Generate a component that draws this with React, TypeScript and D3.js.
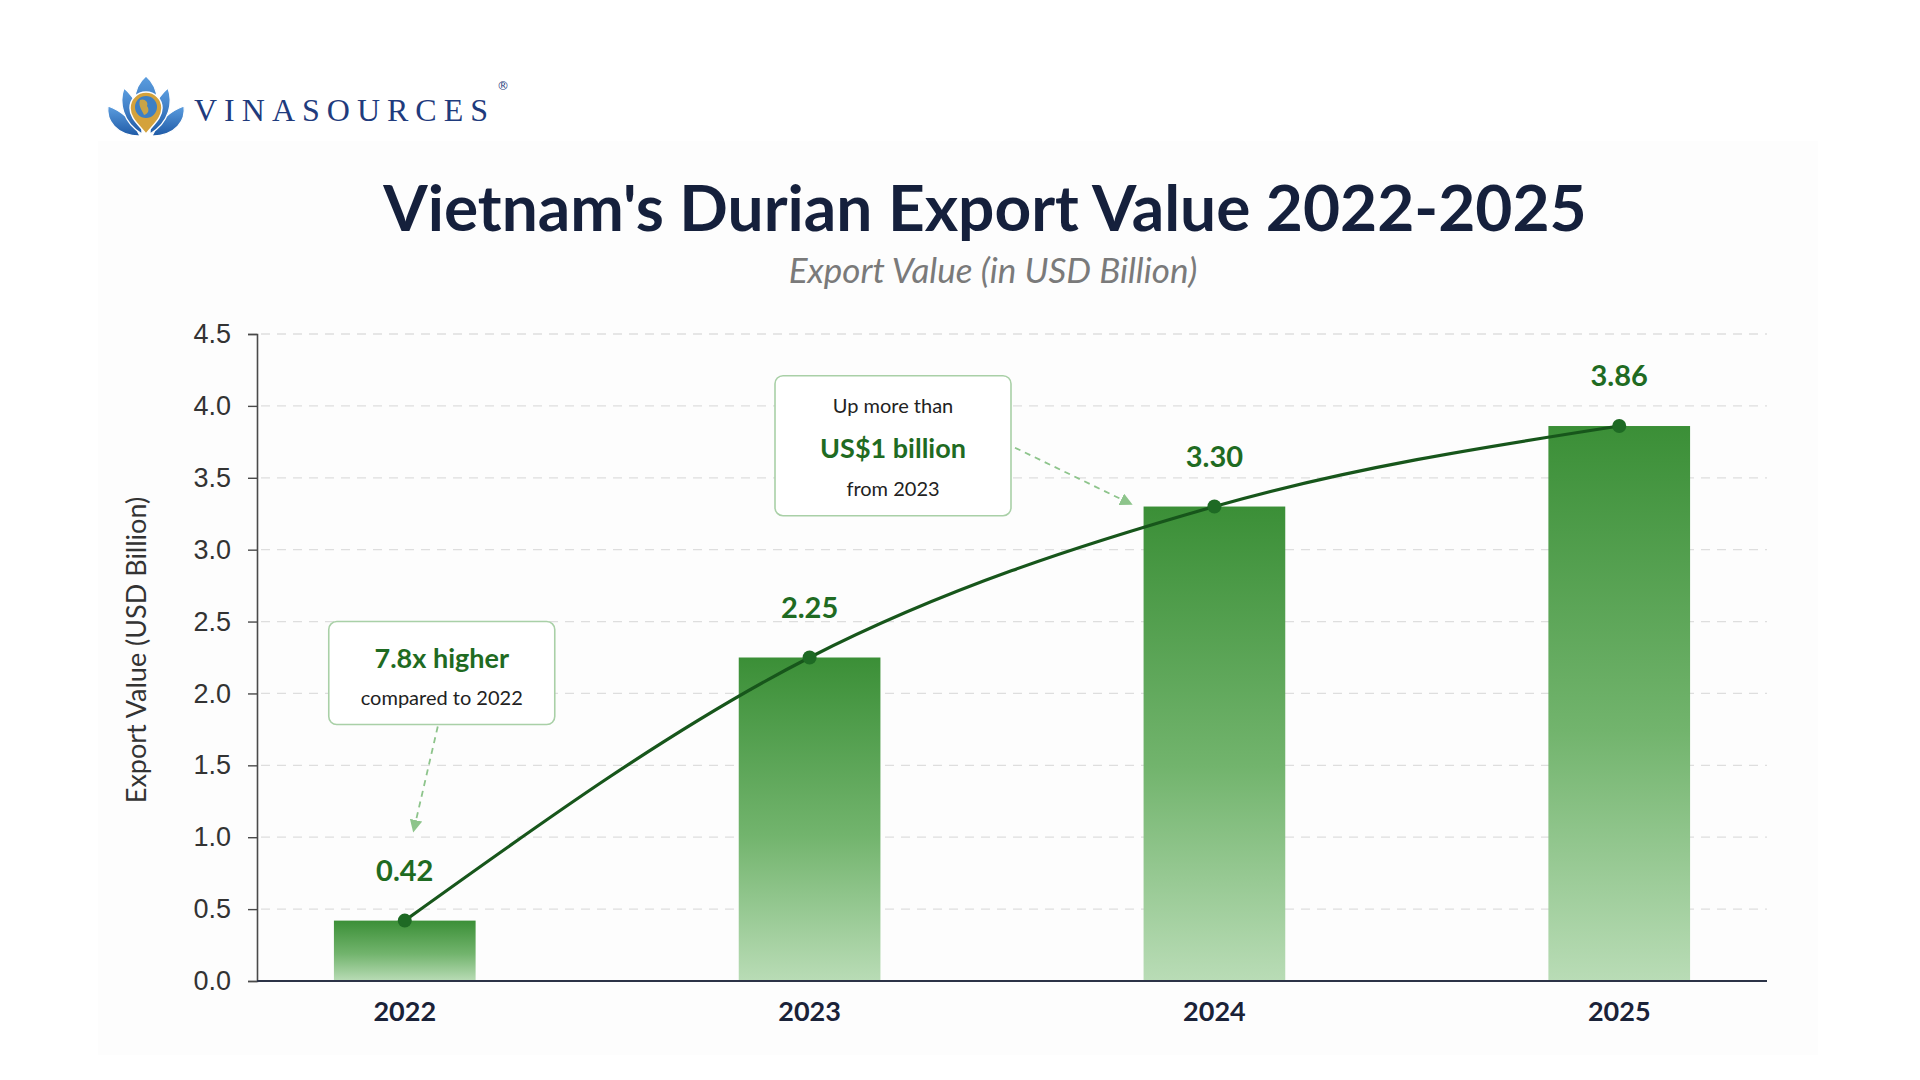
import React, { useEffect, useRef } from "react";
import * as d3 from "d3";

// chart data
const years = ["2022", "2023", "2024", "2025"];
const exportValues = [0.42, 2.25, 3.3, 3.86];
const valueLabels = ["0.42", "2.25", "3.30", "3.86"];
const yTicks = [0, 0.5, 1, 1.5, 2, 2.5, 3, 3.5, 4, 4.5];

const title = "Vietnam's Durian Export Value 2022-2025";
const subtitle = "Export Value (in USD Billion)";
const yAxisTitle = "Export Value (USD Billion)";
const note1 = ["7.8x higher", "compared to 2022"];
const note2 = ["Up more than", "US$1 billion", "from 2023"];

const W = 1920;
const H = 1080;
const margin = { top: 334, right: 153, bottom: 99, left: 257 };

export default function App() {
  const ref = useRef<SVGSVGElement>(null);

  useEffect(() => {
    const svg = d3.select(ref.current);
    svg.selectAll("*").remove();

    const defs = svg.append("defs");
    const grad = defs.append("linearGradient")
      .attr("id", "barGrad").attr("x1", 0).attr("y1", 0).attr("x2", 0).attr("y2", 1);
    grad.append("stop").attr("offset", "0%").attr("stop-color", "#3b8f37");
    grad.append("stop").attr("offset", "55%").attr("stop-color", "#72b46d");
    grad.append("stop").attr("offset", "100%").attr("stop-color", "#b9dcb6");

    const petal = defs.append("linearGradient")
      .attr("id", "petalGrad").attr("x1", 0).attr("y1", 0).attr("x2", 0).attr("y2", 1);
    petal.append("stop").attr("offset", "0%").attr("stop-color", "#5c9ee0");
    petal.append("stop").attr("offset", "100%").attr("stop-color", "#1f5aa6");

    defs.append("marker")
      .attr("id", "arrow").attr("viewBox", "0 0 10 10")
      .attr("refX", 8).attr("refY", 5)
      .attr("markerWidth", 7).attr("markerHeight", 7)
      .attr("orient", "auto-start-reverse")
      .append("path").attr("d", "M0,0 L10,5 L0,10 Z").attr("fill", "#8dc48b");

    // page
    svg.append("rect").attr("width", W).attr("height", H).attr("fill", "#ffffff");
    svg.append("rect").attr("x", 98).attr("y", 141).attr("width", 1720).attr("height", 914)
      .attr("fill", "#fdfdfd");

    // logo
    const logo = svg.append("g").attr("transform", "translate(146,106)");
    const petalPaths = [
      "M-6,30 C-30,30 -40,14 -38,0 C-26,4 -14,14 -6,30 Z",
      "M6,30 C30,30 40,14 38,0 C26,4 14,14 6,30 Z",
      "M-4,28 C-24,16 -27,-4 -22,-18 C-11,-9 -4,6 -4,28 Z",
      "M4,28 C24,16 27,-4 22,-18 C11,-9 4,6 4,28 Z",
      "M0,-30 C14,-18 16,4 0,26 C-16,4 -14,-18 0,-30 Z",
    ];
    logo.selectAll("path.petal").data(petalPaths).join("path")
      .attr("class", "petal").attr("d", d => d).attr("fill", "url(#petalGrad)")
      .attr("stroke", "#ffffff").attr("stroke-width", 1.2);
    logo.append("path")
      .attr("d", "M0,28 C-8,18 -16,12 -16,2 A16,16 0 1 1 16,2 C16,12 8,18 0,28 Z")
      .attr("fill", "#d4a23c").attr("stroke", "#ffffff").attr("stroke-width", 1.5);
    logo.append("circle").attr("cx", 0).attr("cy", 1).attr("r", 11).attr("fill", "#3d7fc4");
    logo.append("path").attr("d", "M-6,-6 C-2,-8 3,-4 1,0 C4,4 2,8 -2,9 C-4,4 -8,0 -6,-6 Z")
      .attr("fill", "#c9a447");
    svg.append("text").attr("x", 194).attr("y", 121).text("VINASOURCES")
      .attr("font-family", "'Liberation Serif', serif").attr("font-size", 32)
      .attr("letter-spacing", 7).attr("fill", "#1f3b7d");
    svg.append("text").attr("x", 497).attr("y", 90).text("®")
      .attr("font-family", "'DejaVu Sans', sans-serif").attr("font-size", 12).attr("fill", "#1f3b7d");

    // titles
    svg.append("text").attr("x", 985).attr("y", 231).attr("text-anchor", "middle").text(title)
      .attr("font-family", "Lato, sans-serif").attr("font-weight", 700).attr("font-size", 64)
      .attr("fill", "#15203c");
    svg.append("text").attr("x", 993).attr("y", 283).attr("text-anchor", "middle").text(subtitle)
      .attr("font-family", "Lato, sans-serif").attr("font-style", "italic").attr("font-size", 35)
      .attr("fill", "#7a7a7a");

    const x = d3.scaleBand<string>()
      .domain(years)
      .range([margin.left, W - margin.right])
      .paddingInner(0.65)
      .paddingOuter(0.19);
    const y = d3.scaleLinear().domain([0, 4.5]).range([H - margin.bottom, margin.top]);
    const cx = (d: string) => (x(d) as number) + x.bandwidth() / 2;

    // grid
    svg.append("g").selectAll("line").data(yTicks.filter(t => t > 0)).join("line")
      .attr("x1", margin.left + 4).attr("x2", W - margin.right)
      .attr("y1", d => y(d)).attr("y2", d => y(d))
      .attr("stroke", "#dedede").attr("stroke-width", 1.3).attr("stroke-dasharray", "9 7");

    // y axis
    const yAxis = svg.append("g").attr("transform", `translate(${margin.left},0)`)
      .call(d3.axisLeft(y).tickValues(yTicks).tickFormat(d3.format(".1f")).tickSize(9).tickPadding(17));
    yAxis.select(".domain").attr("stroke", "#4a4a4a").attr("stroke-width", 1.6);
    yAxis.selectAll(".tick line").attr("stroke", "#4a4a4a").attr("stroke-width", 1.4);
    yAxis.selectAll(".tick text")
      .attr("font-family", "'Liberation Sans', Arial, sans-serif").attr("font-size", 27)
      .attr("fill", "#333333");

    svg.append("text")
      .attr("transform", `translate(146,650) rotate(-90)`)
      .attr("text-anchor", "middle").text(yAxisTitle)
      .attr("font-family", "Lato, sans-serif").attr("font-size", 27).attr("fill", "#333333");

    // bars
    svg.append("g").selectAll("rect").data(years).join("rect")
      .attr("x", d => x(d) as number).attr("width", x.bandwidth())
      .attr("y", (d, i) => y(exportValues[i]))
      .attr("height", (d, i) => y(0) - y(exportValues[i]))
      .attr("fill", "url(#barGrad)");

    // x axis
    const xAxis = svg.append("g").attr("transform", `translate(0,${y(0)})`)
      .call(d3.axisBottom(x).tickSize(0).tickPadding(21));
    xAxis.select(".domain").attr("stroke", "#2c3347").attr("stroke-width", 2.2)
      .attr("d", `M${margin.left},0H${W - margin.right}`);
    xAxis.selectAll(".tick text")
      .attr("font-family", "Lato, sans-serif").attr("font-weight", 700).attr("font-size", 27)
      .attr("fill", "#1a2238");

    // trend line
    const pts: [number, number][] = years.map((d, i) => [cx(d), y(exportValues[i])]);
    svg.append("path").datum(pts)
      .attr("d", d3.line().curve(d3.curveMonotoneX))
      .attr("fill", "none").attr("stroke", "#17561b").attr("stroke-width", 3.2);
    svg.append("g").selectAll("circle").data(pts).join("circle")
      .attr("cx", d => d[0]).attr("cy", d => d[1]).attr("r", 7).attr("fill", "#1e6a24");

    // value labels
    svg.append("g").selectAll("text").data(years).join("text")
      .attr("x", d => cx(d)).attr("y", (d, i) => y(exportValues[i]) - 40)
      .attr("text-anchor", "middle").text((d, i) => valueLabels[i])
      .attr("font-family", "Lato, sans-serif").attr("font-weight", 700).attr("font-size", 29)
      .attr("fill", "#1f6b22");

    // annotation 1
    const b1x = cx("2022") + 37;
    const b1 = svg.append("g");
    b1.append("rect").attr("x", b1x - 113).attr("y", y(2.5)).attr("width", 226).attr("height", 103)
      .attr("rx", 8).attr("fill", "#ffffff").attr("stroke", "#a9d0a7").attr("stroke-width", 1.6);
    b1.append("text").attr("x", b1x).attr("y", y(2.5) + 46).attr("text-anchor", "middle").text(note1[0])
      .attr("font-family", "Lato, sans-serif").attr("font-weight", 700).attr("font-size", 27).attr("fill", "#1f6b22");
    b1.append("text").attr("x", b1x).attr("y", y(2.5) + 83).attr("text-anchor", "middle").text(note1[1])
      .attr("font-family", "Lato, sans-serif").attr("font-size", 20).attr("fill", "#222222");
    b1.append("line")
      .attr("x1", b1x - 4).attr("y1", y(2.5) + 105).attr("x2", cx("2022") + 9).attr("y2", y(1.05))
      .attr("stroke", "#8dc48b").attr("stroke-width", 1.8).attr("stroke-dasharray", "6 5")
      .attr("marker-end", "url(#arrow)");

    // annotation 2
    const b2x = (cx("2023") + cx("2024")) / 2 - 119;
    const b2 = svg.append("g");
    b2.append("rect").attr("x", b2x - 118).attr("y", y(4.21)).attr("width", 236).attr("height", 140)
      .attr("rx", 8).attr("fill", "#ffffff").attr("stroke", "#a9d0a7").attr("stroke-width", 1.6);
    b2.append("text").attr("x", b2x).attr("y", y(4.21) + 37).attr("text-anchor", "middle").text(note2[0])
      .attr("font-family", "Lato, sans-serif").attr("font-size", 20).attr("fill", "#222222");
    b2.append("text").attr("x", b2x).attr("y", y(4.21) + 82).attr("text-anchor", "middle").text(note2[1])
      .attr("font-family", "Lato, sans-serif").attr("font-weight", 700).attr("font-size", 27).attr("fill", "#1f6b22");
    b2.append("text").attr("x", b2x).attr("y", y(4.21) + 120).attr("text-anchor", "middle").text(note2[2])
      .attr("font-family", "Lato, sans-serif").attr("font-size", 20).attr("fill", "#222222");
    b2.append("line")
      .attr("x1", b2x + 122).attr("y1", y(4.21) + 72).attr("x2", cx("2024") - 84).attr("y2", y(3.32))
      .attr("stroke", "#8dc48b").attr("stroke-width", 1.8).attr("stroke-dasharray", "6 5")
      .attr("marker-end", "url(#arrow)");
  }, []);

  return (
    <svg ref={ref} width={W} height={H}
      style={{ position: "absolute", left: 0, top: 0, display: "block" }} />
  );
}
